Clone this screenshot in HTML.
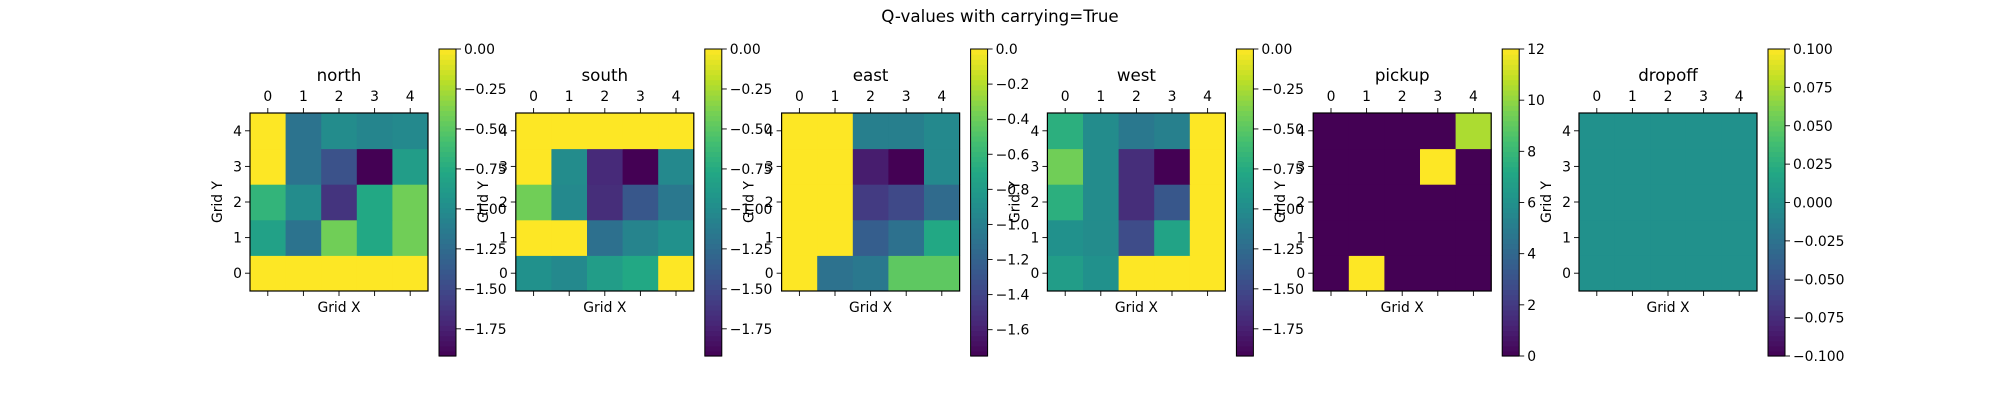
<!DOCTYPE html>
<html><head><meta charset="utf-8"><title>Q-values with carrying=True</title>
<style>
html,body{margin:0;padding:0;background:#fff;width:2000px;height:400px;overflow:hidden}
svg{display:block;font-family:"DejaVu Sans","Liberation Sans",sans-serif}
</style></head>
<body>
<svg id="chart" width="2000" height="400" viewBox="0 0 2000 400" xmlns="http://www.w3.org/2000/svg">
<text x="1000" y="22" text-anchor="middle" font-size="16.7" fill="#000">Q-values with carrying=True</text>
</svg>
<script>
// Data: rows indexed by grid y (row 0 = Grid Y 0), columns = Grid X 0..4
const panelTitles = ["north","south","east","west","pickup","dropoff"];
const northValues = [
  [0,0,0,0,0],
  [-0.83,-1.19,-0.42,-0.77,-0.42],
  [-0.67,-1.0,-1.63,-0.77,-0.42],
  [0,-1.19,-1.44,-1.92,-0.86],
  [0,-1.19,-1.0,-1.05,-1.02]
];
const southValues = [
  [-0.96,-1.02,-0.86,-0.77,0],
  [0,0,-1.21,-1.06,-0.96],
  [-0.42,-1.02,-1.67,-1.40,-1.15],
  [0,-1.0,-1.69,-1.92,-1.02],
  [0,0,0,0,0]
];
const eastValues = [
  [0,-1.09,-1.05,-0.44,-0.44],
  [0,0,-1.23,-1.10,-0.70],
  [0,0,-1.45,-1.37,-1.14],
  [0,0,-1.61,-1.75,-0.93],
  [0,0,-1.0,-1.0,-0.93]
];
const westValues = [
  [-0.86,-0.96,0,0,0],
  [-0.96,-1.0,-1.48,-0.81,0],
  [-0.71,-1.0,-1.67,-1.40,0],
  [-0.42,-1.0,-1.67,-1.92,0],
  [-0.71,-1.0,-1.15,-1.09,0]
];
const pickupValues = [
  [0,12,0,0,0],
  [0,0,0,0,0],
  [0,0,0,0,0],
  [0,0,0,12,0],
  [0,0,0,0,10.5]
];
const dropoffValues = [
  [0,0,0,0,0],
  [0,0,0,0,0],
  [0,0,0,0,0],
  [0,0,0,0,0],
  [0,0,0,0,0]
];
const northTicks = ["0.00","−0.25","−0.50","−0.75","−1.00","−1.25","−1.50","−1.75"];
const southTicks = ["0.00","−0.25","−0.50","−0.75","−1.00","−1.25","−1.50","−1.75"];
const eastTicks = ["0.0","−0.2","−0.4","−0.6","−0.8","−1.0","−1.2","−1.4","−1.6"];
const westTicks = ["0.00","−0.25","−0.50","−0.75","−1.00","−1.25","−1.50","−1.75"];
const pickupTicks = ["0","2","4","6","8","10","12"];
const dropoffTicks = ["−0.100","−0.075","−0.050","−0.025","0.000","0.025","0.050","0.075","0.100"];
const gridTicks = ["0","1","2","3","4"];

const panelData = [northValues,southValues,eastValues,westValues,pickupValues,dropoffValues];
const panelTicks = [northTicks,southTicks,eastTicks,westTicks,pickupTicks,dropoffTicks];

const VIR = ["#440154","#482475","#414487","#355f8d","#2a788e","#21918c","#22a884","#44bf70","#7ad151","#bddf26","#fde725"];
function hex(h){return [parseInt(h.substr(1,2),16),parseInt(h.substr(3,2),16),parseInt(h.substr(5,2),16)];}
function viridis(t){
  t=Math.max(0,Math.min(1,t));
  const f=t*10, i=Math.min(9,Math.floor(f)), r=f-i;
  const a=hex(VIR[i]), b=hex(VIR[i+1]);
  return "rgb("+a.map((v,k)=>Math.round(v+(b[k]-v)*r)).join(",")+")";
}
const NS="http://www.w3.org/2000/svg";
const svg=document.getElementById("chart");
function mk(tag,attrs,parent){const e=document.createElementNS(NS,tag);for(const k in attrs)e.setAttribute(k,attrs[k]);(parent||svg).appendChild(e);return e;}

const AX0=250, STEP=265.8, AXW=178, AXT=113, AXH=178, CBDX=189, CBW=17, CBT=49, CBB=356;
const FS=13.9;

panelData.forEach((data,p)=>{
  const g=mk("g",{});
  
  
  const flat=data.flat();
  let vmin=Math.min(...flat), vmax=Math.max(...flat);
  if(vmin===vmax){vmin-=0.1;vmax+=0.1;}
  const ax=AX0+p*STEP;
  const cw=AXW/5, ch=AXH/5;
  const xPos=c=>ax+c*cw;
  const yPos=r=>AXT+(4-r)*ch;
  const norm=v=>(v-vmin)/(vmax-vmin);
  // cells
  data.forEach((row,r)=>row.forEach((v,c)=>{
    const cell=mk("rect",{x:xPos(c),y:yPos(r),width:cw+0.5,height:ch+0.5,fill:viridis(norm(v))},g);
    
    
  }));
  const frame=mk("rect",{x:ax,y:AXT,width:AXW,height:AXH,fill:"none",stroke:"#000","stroke-width":1.2},g);
  
  
  // title
  const t=mk("text",{x:ax+AXW/2,y:81,"text-anchor":"middle","font-size":16.7},g);
  t.textContent=panelTitles[p];
  
  
  // x ticks
  gridTicks.forEach((lab,i)=>{
    const x=xPos(i)+cw/2;
    mk("line",{x1:x,x2:x,y1:AXT,y2:AXT-5,stroke:"#000","stroke-width":0.9},g);
    mk("line",{x1:x,x2:x,y1:AXT+AXH,y2:AXT+AXH+5,stroke:"#000","stroke-width":0.9},g);
    const tl=mk("text",{x:x,y:101,"text-anchor":"middle","font-size":FS},g);
    tl.textContent=lab;
    
    
  });
  // y ticks
  gridTicks.forEach((lab,i)=>{
    const y=yPos(i)+ch/2;
    mk("line",{x1:ax,x2:ax-5,y1:y,y2:y,stroke:"#000","stroke-width":0.9},g);
    const tl=mk("text",{x:ax-8,y:y+5,"text-anchor":"end","font-size":FS},g);
    tl.textContent=lab;
    
    
  });
  const xl=mk("text",{x:ax+AXW/2,y:312,"text-anchor":"middle","font-size":FS},g);
  xl.textContent="Grid X";
  
  
  const yl=mk("text",{x:0,y:0,"text-anchor":"middle","font-size":FS,transform:"translate("+(ax-28)+","+(AXT+AXH/2)+") rotate(-90)"},g);
  yl.textContent="Grid Y";
  
  
  // colorbar
  const cx=ax+CBDX;
  const N=60, sh=(CBB-CBT)/N;
  for(let k=0;k<N;k++){
    mk("rect",{x:cx,y:CBB-(k+1)*sh,width:CBW,height:sh+0.6,fill:viridis((k+0.5)/N)},g);
  }
  const cbf=mk("rect",{x:cx,y:CBT,width:CBW,height:CBB-CBT,fill:"none",stroke:"#000","stroke-width":1},g);
  
  
  const cbY=v=>CBB-norm(v)*(CBB-CBT);
  panelTicks[p].forEach(lab=>{
    const v=parseFloat(lab.replace("−","-"));
    const y=cbY(v);
    mk("line",{x1:cx+CBW,x2:cx+CBW+5,y1:y,y2:y,stroke:"#000","stroke-width":0.9},g);
    const tl=mk("text",{x:cx+CBW+8,y:y+5,"font-size":FS},g);
    tl.textContent=lab;
    
    
  });
});
</script>
</body></html>
